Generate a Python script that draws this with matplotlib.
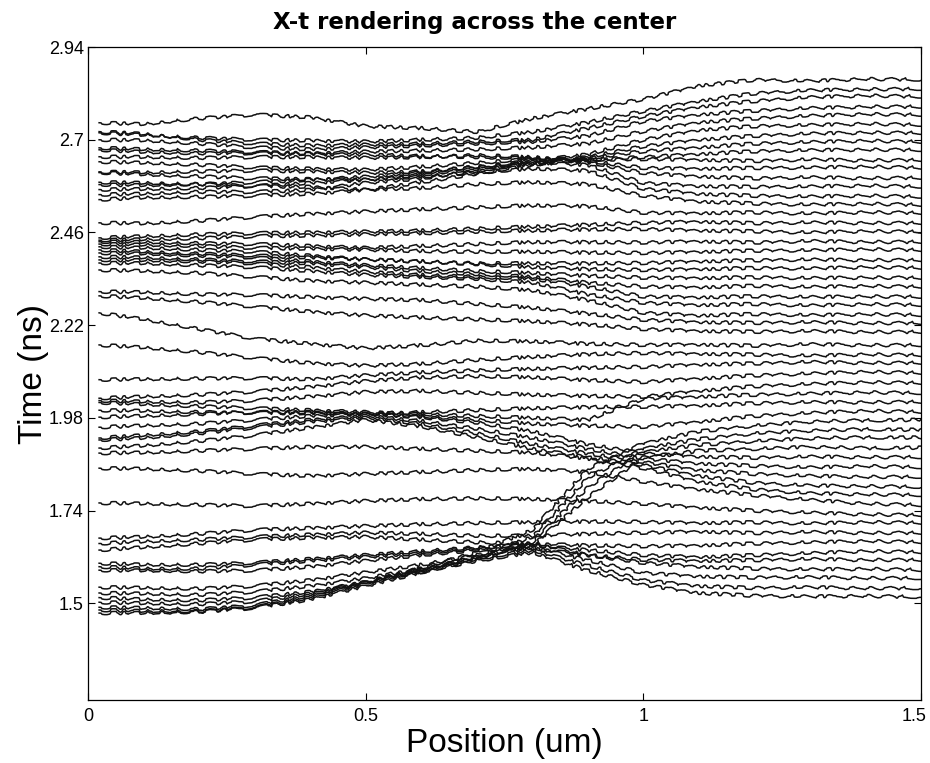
import matplotlib
matplotlib.use("Agg")
import matplotlib.pyplot as plt
from matplotlib.transforms import ScaledTranslation

# Sample positions along the cut (um)
position_um = [0.02, 0.1, 0.2, 0.3, 0.4, 0.5, 0.6, 0.7, 0.8, 0.9, 1.0, 1.1, 1.2, 1.3, 1.4, 1.5]

# Arrival times (ns) of each traced front, grouped by band
upper_band = [
    [2.744, 2.740, 2.755, 2.765, 2.758, 2.735, 2.730, 2.720, 2.755, 2.780, 2.805, 2.840, 2.855, 2.852, 2.857, 2.856],
    [2.718, 2.712, 2.705, 2.700, 2.698, 2.695, 2.700, 2.705, 2.720, 2.745, 2.774, 2.800, 2.820, 2.828, 2.830, 2.832],
    [2.721, 2.715, 2.700, 2.690, 2.685, 2.687, 2.690, 2.695, 2.700, 2.730, 2.761, 2.785, 2.800, 2.810, 2.814, 2.812],
    [2.700, 2.698, 2.690, 2.680, 2.675, 2.680, 2.685, 2.690, 2.695, 2.710, 2.748, 2.765, 2.775, 2.782, 2.785, 2.786],
    [2.679, 2.675, 2.672, 2.668, 2.665, 2.669, 2.672, 2.675, 2.680, 2.690, 2.722, 2.745, 2.755, 2.762, 2.766, 2.765],
    [2.584, 2.582, 2.585, 2.590, 2.596, 2.604, 2.615, 2.630, 2.645, 2.662, 2.700, 2.725, 2.735, 2.738, 2.741, 2.739],
    [2.571, 2.572, 2.575, 2.580, 2.588, 2.596, 2.610, 2.625, 2.640, 2.655, 2.683, 2.700, 2.710, 2.716, 2.718, 2.718],
    [2.558, 2.560, 2.565, 2.565, 2.570, 2.588, 2.600, 2.620, 2.638, 2.652, 2.670, 2.680, 2.690, 2.694, 2.697, 2.695],
    [2.545, 2.550, 2.552, 2.555, 2.560, 2.570, 2.590, 2.612, 2.635, 2.648, 2.655, 2.663, 2.670, 2.673, 2.674, 2.674],
    [2.674, 2.668, 2.665, 2.665, 2.663, 2.661, 2.658, 2.655, 2.652, 2.648, 2.650, 2.648, 2.645, 2.649, 2.646, 2.648],
    [2.656, 2.655, 2.653, 2.655, 2.655, 2.653, 2.655, 2.660, 2.655, 2.645, 2.627, 2.625, 2.627, 2.628, 2.630, 2.628],
    [2.643, 2.640, 2.635, 2.628, 2.625, 2.622, 2.630, 2.640, 2.650, 2.642, 2.614, 2.605, 2.600, 2.603, 2.600, 2.602],
    [2.617, 2.615, 2.618, 2.620, 2.618, 2.614, 2.618, 2.630, 2.640, 2.635, 2.588, 2.580, 2.578, 2.579, 2.581, 2.579],
    [2.615, 2.610, 2.605, 2.600, 2.598, 2.596, 2.605, 2.615, 2.625, 2.620, 2.573, 2.560, 2.555, 2.553, 2.555, 2.553],
    [2.590, 2.588, 2.585, 2.580, 2.578, 2.570, 2.575, 2.585, 2.590, 2.585, 2.555, 2.540, 2.535, 2.532, 2.534, 2.532],
    [2.485, 2.483, 2.490, 2.500, 2.508, 2.514, 2.520, 2.525, 2.530, 2.528, 2.511, 2.510, 2.512, 2.509, 2.512, 2.511],
]

middle_upper_band = [
    [2.446, 2.450, 2.455, 2.458, 2.460, 2.462, 2.465, 2.470, 2.475, 2.480, 2.485, 2.488, 2.484, 2.486, 2.484, 2.485],
    [2.440, 2.442, 2.445, 2.450, 2.452, 2.455, 2.458, 2.462, 2.465, 2.468, 2.469, 2.465, 2.463, 2.460, 2.463, 2.462],
    [2.436, 2.435, 2.432, 2.430, 2.425, 2.420, 2.425, 2.430, 2.435, 2.435, 2.434, 2.437, 2.434, 2.438, 2.435, 2.436],
    [2.430, 2.428, 2.425, 2.420, 2.418, 2.415, 2.412, 2.410, 2.410, 2.408, 2.407, 2.410, 2.413, 2.414, 2.416, 2.415],
    [2.423, 2.420, 2.415, 2.410, 2.400, 2.390, 2.385, 2.380, 2.380, 2.380, 2.381, 2.385, 2.388, 2.390, 2.388, 2.389],
    [2.415, 2.410, 2.405, 2.400, 2.395, 2.390, 2.385, 2.378, 2.370, 2.365, 2.363, 2.365, 2.368, 2.367, 2.370, 2.369],
    [2.407, 2.405, 2.400, 2.395, 2.385, 2.375, 2.368, 2.360, 2.355, 2.348, 2.343, 2.342, 2.344, 2.342, 2.343, 2.343],
    [2.397, 2.395, 2.390, 2.385, 2.380, 2.370, 2.360, 2.352, 2.345, 2.330, 2.320, 2.318, 2.322, 2.319, 2.321, 2.320],
    [2.389, 2.388, 2.385, 2.380, 2.370, 2.358, 2.350, 2.345, 2.340, 2.320, 2.294, 2.292, 2.295, 2.293, 2.294, 2.294],
    [2.381, 2.380, 2.375, 2.370, 2.360, 2.350, 2.345, 2.340, 2.330, 2.300, 2.278, 2.272, 2.275, 2.271, 2.274, 2.273],
    [2.363, 2.360, 2.355, 2.345, 2.335, 2.330, 2.325, 2.320, 2.310, 2.285, 2.252, 2.245, 2.249, 2.246, 2.248, 2.247],
    [2.307, 2.305, 2.300, 2.298, 2.293, 2.288, 2.285, 2.275, 2.265, 2.250, 2.234, 2.228, 2.226, 2.228, 2.225, 2.226],
    [2.296, 2.290, 2.280, 2.268, 2.255, 2.245, 2.240, 2.235, 2.230, 2.222, 2.210, 2.205, 2.203, 2.205, 2.202, 2.203],
]

middle_band = [
    [2.252, 2.235, 2.210, 2.185, 2.172, 2.160, 2.168, 2.180, 2.178, 2.172, 2.169, 2.170, 2.167, 2.171, 2.168, 2.169],
    [2.169, 2.162, 2.150, 2.135, 2.122, 2.115, 2.120, 2.130, 2.138, 2.145, 2.148, 2.146, 2.144, 2.141, 2.144, 2.143],
    [2.079, 2.080, 2.082, 2.083, 2.080, 2.090, 2.098, 2.103, 2.107, 2.110, 2.112, 2.118, 2.121, 2.125, 2.122, 2.123],
    [2.031, 2.035, 2.040, 2.048, 2.060, 2.075, 2.085, 2.088, 2.085, 2.078, 2.073, 2.082, 2.090, 2.095, 2.099, 2.097],
    [2.025, 2.022, 2.020, 2.025, 2.035, 2.047, 2.050, 2.045, 2.040, 2.037, 2.035, 2.050, 2.062, 2.068, 2.072, 2.071],
    [2.020, 2.015, 2.010, 2.005, 2.000, 1.995, 1.990, 1.985, 1.980, 1.975, 2.030, 2.035, 2.040, 2.043, 2.046, 2.045],
    [2.000, 1.998, 1.995, 1.993, 1.992, 1.990, 1.995, 2.000, 2.005, 2.008, 2.009, 2.012, 2.018, 2.021, 2.020, 2.022],
    [1.982, 1.985, 1.990, 1.995, 1.995, 1.990, 1.985, 1.975, 1.965, 1.960, 1.957, 1.970, 1.985, 1.993, 1.998, 1.996],
]

descending_fronts = [
    [1.956, 1.960, 1.965, 1.975, 1.985, 1.990, 1.982, 1.968, 1.945, 1.912, 1.888, 1.880, 1.877, 1.880, 1.878, 1.879],
    [1.928, 1.935, 1.945, 1.960, 1.975, 1.985, 1.972, 1.952, 1.928, 1.900, 1.875, 1.862, 1.856, 1.852, 1.855, 1.853],
    [1.923, 1.928, 1.940, 1.955, 1.970, 1.980, 1.965, 1.940, 1.912, 1.888, 1.866, 1.845, 1.835, 1.830, 1.827, 1.828],
    [1.902, 1.908, 1.920, 1.935, 1.955, 1.975, 1.958, 1.930, 1.900, 1.878, 1.858, 1.830, 1.812, 1.805, 1.803, 1.802],
    [1.889, 1.890, 1.895, 1.900, 1.905, 1.905, 1.900, 1.895, 1.890, 1.875, 1.850, 1.815, 1.795, 1.785, 1.782, 1.781],
]

rising_fronts = [
    [1.503, 1.500, 1.498, 1.505, 1.525, 1.555, 1.592, 1.632, 1.690, 1.848, 1.915, 1.945, 1.960, 1.970, 1.974, 1.975],
    [1.483, 1.480, 1.480, 1.490, 1.515, 1.550, 1.585, 1.622, 1.672, 1.825, 1.902, 1.925, 1.940, 1.947, 1.951, 1.949],
    [1.475, 1.475, 1.478, 1.488, 1.510, 1.545, 1.580, 1.615, 1.658, 1.800, 1.893, 1.910, 1.920, 1.927, 1.930, 1.929],
    [1.490, 1.488, 1.485, 1.495, 1.520, 1.553, 1.588, 1.620, 1.650, 1.775, 1.878, 1.895, 1.900, 1.905, 1.902, 1.903],
]

lower_band = [
    [1.850, 1.848, 1.843, 1.835, 1.830, 1.835, 1.840, 1.845, 1.848, 1.840, 1.815, 1.795, 1.780, 1.768, 1.758, 1.755],
    [1.760, 1.758, 1.755, 1.752, 1.758, 1.765, 1.770, 1.772, 1.770, 1.765, 1.758, 1.748, 1.740, 1.735, 1.730, 1.729],
    [1.669, 1.672, 1.680, 1.690, 1.695, 1.700, 1.705, 1.708, 1.710, 1.712, 1.711, 1.708, 1.710, 1.707, 1.710, 1.709],
    [1.655, 1.660, 1.665, 1.672, 1.678, 1.683, 1.680, 1.675, 1.675, 1.680, 1.683, 1.686, 1.682, 1.685, 1.682, 1.683],
    [1.638, 1.645, 1.655, 1.665, 1.670, 1.672, 1.665, 1.658, 1.654, 1.650, 1.648, 1.650, 1.655, 1.658, 1.661, 1.659],
    [1.604, 1.600, 1.600, 1.605, 1.615, 1.625, 1.635, 1.645, 1.650, 1.638, 1.625, 1.620, 1.625, 1.630, 1.635, 1.633],
    [1.586, 1.585, 1.583, 1.585, 1.595, 1.610, 1.625, 1.638, 1.642, 1.625, 1.613, 1.610, 1.612, 1.615, 1.612, 1.613],
    [1.595, 1.590, 1.590, 1.600, 1.610, 1.620, 1.630, 1.642, 1.655, 1.625, 1.605, 1.595, 1.590, 1.588, 1.589, 1.587],
    [1.542, 1.540, 1.538, 1.545, 1.560, 1.580, 1.600, 1.625, 1.645, 1.612, 1.579, 1.570, 1.567, 1.568, 1.565, 1.566],
    [1.527, 1.525, 1.522, 1.530, 1.545, 1.565, 1.590, 1.615, 1.638, 1.598, 1.560, 1.545, 1.540, 1.542, 1.539, 1.540],
    [1.515, 1.510, 1.508, 1.515, 1.530, 1.555, 1.582, 1.610, 1.632, 1.585, 1.548, 1.527, 1.520, 1.518, 1.519, 1.517],
]

x_ticks = [0, 0.5, 1, 1.5]
x_tick_labels = ["0", "0.5", "1", "1.5"]
y_ticks = [1.5, 1.74, 1.98, 2.22, 2.46, 2.7, 2.94]
y_tick_labels = ["1.5", "1.74", "1.98", "2.22", "2.46", "2.7", "2.94"]

plt.rcParams["font.family"] = ["Liberation Sans", "DejaVu Sans"]

fig = plt.figure(figsize=(9.3, 7.63), dpi=100)
ax = fig.add_axes([88 / 930, 63 / 763, 833 / 930, 653 / 763])

# traces are drawn with a slightly jagged stroke, like digitised fronts
for band in (upper_band, middle_upper_band, middle_band,
             descending_fronts, rising_fronts, lower_band):
    for times in band:
        (trace,) = ax.plot(position_um, times, color="#111111", lw=1.1)
        trace.set_sketch_params(1.6, 30.0, 10.0)

ax.set_xlim(0, 1.5)
ax.set_ylim(1.25, 2.94)
ax.set_xticks(x_ticks)
ax.set_xticklabels(x_tick_labels)
ax.set_yticks(y_ticks)
ax.set_yticklabels(y_tick_labels)
ax.tick_params(direction="in", top=True, right=True, length=5, width=0.8,
               labelsize=13)
ax.tick_params(axis="y", pad=3)
ax.tick_params(axis="x", pad=6)
for spine in ax.spines.values():
    spine.set_linewidth(0.9)

# keep the last x label inside the canvas
last = ax.get_xticklabels()[-1]
last.set_transform(last.get_transform()
                   + ScaledTranslation(-7 / 100, 0, fig.dpi_scale_trans))

fig.text(475 / 930, 1 - 22 / 763, "X-t rendering across the center",
         ha="center", va="center", fontsize=16.5, fontweight="bold",
         family=["DejaVu Sans"])
ax.set_xlabel("Position (um)", fontsize=24, labelpad=2)
ax.set_ylabel("Time (ns)", fontsize=24, labelpad=0)

fig.savefig("out.png", dpi=100)
